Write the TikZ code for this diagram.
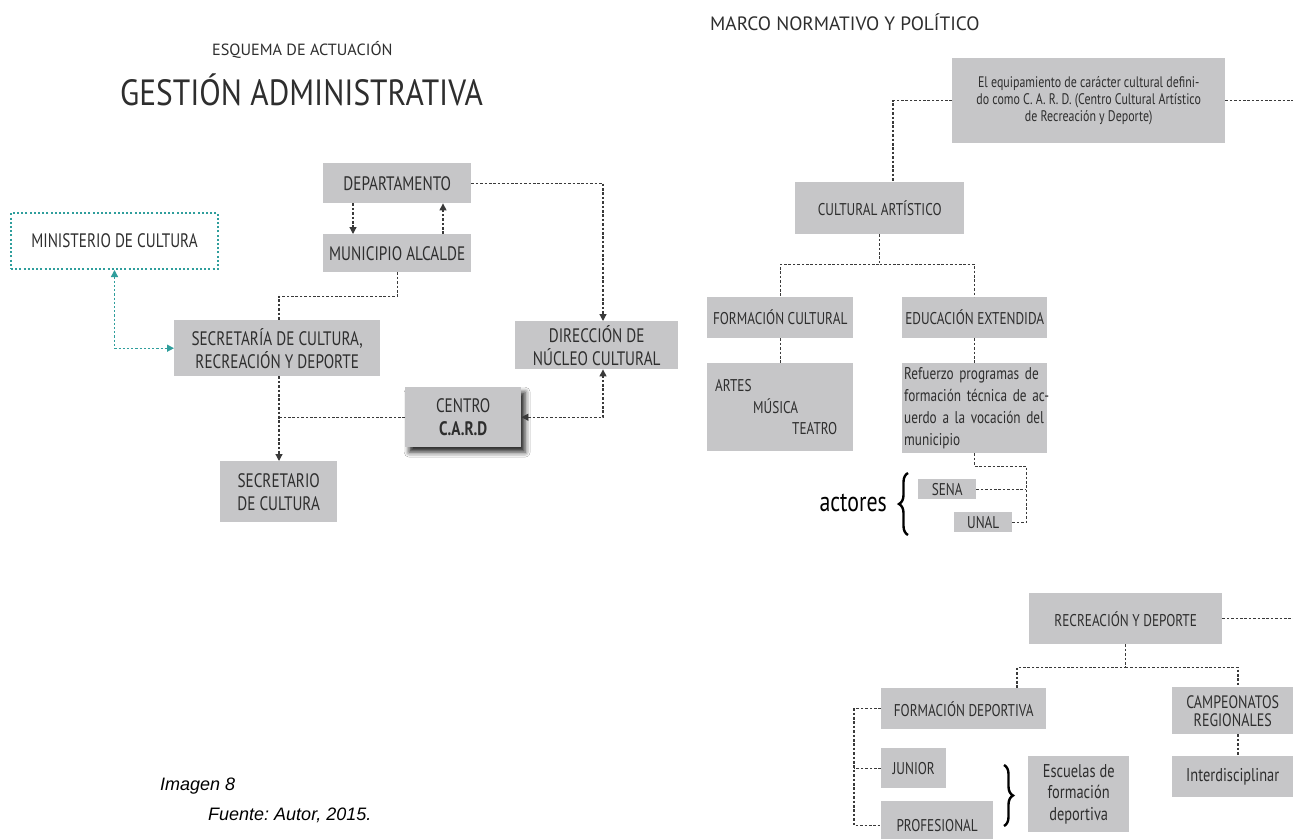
\documentclass[tikz,border=0pt]{standalone}
\usepackage{fontspec}
\setmainfont{PT Sans}
\newfontfamily\din[FakeStretch=0.78]{PT Sans}
\newfontfamily\ttlfont{PT Sans}
\newfontfamily\capfont{Liberation Sans}
\usetikzlibrary{arrows.meta,shadows.blur,decorations.pathreplacing}
\frenchspacing
\definecolor{boxgray}{HTML}{C6C6C8}
\definecolor{txt}{HTML}{2E2E2E}
\definecolor{lin}{HTML}{3A3A3A}
\definecolor{tealc}{HTML}{2F9E9C}
\tikzset{
  box/.style={fill=boxgray, text=txt, inner sep=0pt, anchor=north west, align=center,
    font=\din\fontsize{19.5}{23}\selectfont},
  rbox/.style={box, font=\din\fontsize{17}{20}\selectfont},
  mixbox/.style={box, font=\din\fontsize{18.5}{21}\selectfont},
  dl/.style={draw=lin, line width=1.2pt, dash pattern=on 2.6pt off 1.8pt},
  tip/.style={-{Triangle[width=7pt,length=7pt]}},
  tips/.style={{Triangle[width=7pt,length=7pt]}-{Triangle[width=7pt,length=7pt]}},
  ttl/.style={text=txt, inner sep=0pt, anchor=west},
  brc/.style={decorate, decoration={brace, amplitude=9pt}, line width=2.4pt, draw=black},
}
\begin{document}
\begin{tikzpicture}[x=1pt, y=-1pt]
\useasboundingbox (0,0) rectangle (1293,838);
\fill[white] (0,0) rectangle (1293,838);
\coordinate (edge) at (1293,0);

% ---------------- left: titles ----------------
\node[ttl, font=\ttlfont\fontsize{16.2}{18}\selectfont] (esq) at (212,50) {ESQUEMA DE ACTUACIÓN};
\node[ttl, font=\ttlfont\fontsize{36.5}{40}\selectfont] (gest) at (120,90) {\addfontfeature{FakeStretch=0.86}GESTIÓN ADMINISTRATIVA};

% ---------------- left: boxes ----------------
\node[box, fill=none, draw=tealc, line width=2pt, dash pattern=on 2pt off 2.2pt,
      minimum width=207pt, minimum height=56pt] (mini) at (10,212) {MINISTERIO DE CULTURA};
\node[box, minimum width=148pt, minimum height=40pt] (dep) at (323,163) {DEPARTAMENTO};
\node[box, minimum width=148pt, minimum height=38pt] (mun) at (323,234) {MUNICIPIO ALCALDE};
\node[box, minimum width=206pt, minimum height=56pt] (secr) at (174,320) {SECRETARÍA DE CULTURA,\\RECREACIÓN Y DEPORTE};
\node[box, minimum width=163pt, minimum height=48pt] (dir) at (515,321) {DIRECCIÓN DE\\NÚCLEO CULTURAL};
\node[box, minimum width=116pt, minimum height=60pt,
      blur shadow={shadow xshift=4pt, shadow yshift=-5pt, shadow blur radius=5pt, shadow opacity=85}]
      (card) at (405,387) {CENTRO\\\textbf{C.A.R.D}};
\node[box, minimum width=117pt, minimum height=61pt] (secro) at (220,461) {SECRETARIO\\DE CULTURA};

% ---------------- left: connectors ----------------
\draw[dl, tip] ([xshift=30pt]dep.south west) -- ([xshift=30pt]mun.north west);
\draw[dl, tip] ([xshift=120pt]mun.north west) -- ([xshift=120pt]dep.south west);
\draw[dl, tip] (dep.east) -| ([xshift=88pt]dir.north west);
\draw[dl] (mun.south) -- ++(0,24) -| ([xshift=105pt]secr.north west);
\draw[tealc, line width=1.4pt, dash pattern=on 2.2pt off 2pt,
      {Triangle[width=7pt,length=7pt]}-{Triangle[width=7pt,length=7pt]}] (mini.south) |- (secr.west);
\draw[dl, tip] ([xshift=105pt]secr.south west) -- ([xshift=59pt]secro.north west);
\draw[dl] (card.west) -- ([xshift=105pt]secr.south west |- card.west);
\draw[dl, tips] (card.east) -| ([xshift=88pt]dir.south west);

% ---------------- caption ----------------
\node[ttl, text=black, font=\capfont\itshape\fontsize{18}{20}\selectfont] (img) at (160,786) {Imagen 8};
\node[ttl, text=black, font=\capfont\itshape\fontsize{18}{20}\selectfont] (fte) at (208,815) {Fuente: Autor, 2015.};

% ---------------- right: title ----------------
\node[ttl, font=\ttlfont\fontsize{19.3}{22}\selectfont] (marco) at (710,22) {MARCO NORMATIVO Y POLÍTICO};

% ---------------- right: boxes ----------------
\node[box, font=\din\fontsize{15.3}{17}\selectfont, minimum width=273pt, minimum height=85pt] (top) at (952,58)
  {El equipamiento de carácter cultural defini-\\do como C. A. R. D. (Centro Cultural Artístico\\de Recreación y Deporte)};
\node[rbox, minimum width=169pt, minimum height=52pt] (ca) at (795,182) {CULTURAL ARTÍSTICO};
\node[rbox, minimum width=146pt, minimum height=41pt] (fc) at (707,297) {FORMACIÓN CULTURAL};
\node[rbox, minimum width=145pt, minimum height=41pt] (ee) at (902,297) {EDUCACIÓN EXTENDIDA};
\node[rbox, font=\din\fontsize{17}{21.5}\selectfont, minimum width=146pt, minimum height=88pt,
      text width=130pt, align=left] (artes) at (707,363)
  {ARTES\\\hspace*{38pt}MÚSICA\\\hspace*{77pt}TEATRO};
\node[mixbox, font=\din\fontsize{17}{22}\selectfont, minimum width=145pt, minimum height=90pt,
      text width=141pt, align=left] (ref) at (902,363)
  {\makebox[141pt][s]{Refuerzo programas de}\\\makebox[141pt][s]{formación técnica de ac-}\\\makebox[141pt][s]{uerdo a la vocación del}\\municipio};
\node[rbox, minimum width=58pt, minimum height=20pt] (sena) at (918,479) {SENA};
\node[rbox, minimum width=58pt, minimum height=20pt] (unal) at (954,512) {UNAL};
\node[text=black, inner sep=0pt, anchor=east, font=\din\fontsize{28}{30}\selectfont] (act) at (887,503) {actores};

\node[rbox, minimum width=193pt, minimum height=51pt] (ryd) at (1029,593) {RECREACIÓN Y DEPORTE};
\node[rbox, minimum width=165pt, minimum height=41pt] (fd) at (881,688) {FORMACIÓN DEPORTIVA};
\node[rbox, font=\din\fontsize{18}{18}\selectfont, minimum width=121pt, minimum height=47pt] (cr) at (1172,687) {CAMPEONATOS\\REGIONALES};
\node[mixbox, minimum width=121pt, minimum height=41pt] (inter) at (1172,756) {Interdisciplinar};
\node[rbox, minimum width=65pt, minimum height=40pt] (jun) at (881,748) {JUNIOR};
\node[rbox, minimum width=112pt, minimum height=48pt] (prof) at (881,801) {PROFESIONAL};
\node[mixbox, font=\din\fontsize{18.5}{21.5}\selectfont, minimum width=101pt, minimum height=76pt] (esc) at (1028,756)
  {Escuelas de\\formación\\deportiva};

% ---------------- right: connectors ----------------
\draw[dl] (top.west) -| ([xshift=98pt]ca.north west);
\draw[dl] (top.east) -- (top.east -| edge);
\draw[dl] (ca.south) -- ++(0,30) -| (fc.north);
\draw[dl] (ca.south) ++(0,30) -| (ee.north);
\draw[dl] (fc.south) -- (artes.north);
\draw[dl] (ee.south) -- (ref.north);
\draw[dl] (ref.south) -- ++(0,13) -| ([xshift=14pt]unal.east);
\draw[dl] (sena.east) -- ++(50,0);
\draw[dl] (unal.east) -- ++(14,0);

\draw[dl] (ryd.east) -- (ryd.east -| edge);
\draw[dl] (ryd.south) -- ++(0,23) -| ([xshift=136pt]fd.north west);
\draw[dl] (ryd.south) ++(0,23) -| ([xshift=66pt]cr.north west);
\draw[dl] ([xshift=66pt]cr.south west) -- ([xshift=66pt]inter.north west);
\draw[dl] (fd.west) -- ++(-27,0) |- (prof.west);
\draw[dl] (jun.west) -- ++(-27,0);

% braces
\draw[brc] (908,535) -- (908,473);
\draw[brc] (1004,765) -- (1004,826);
\end{tikzpicture}
\end{document}
